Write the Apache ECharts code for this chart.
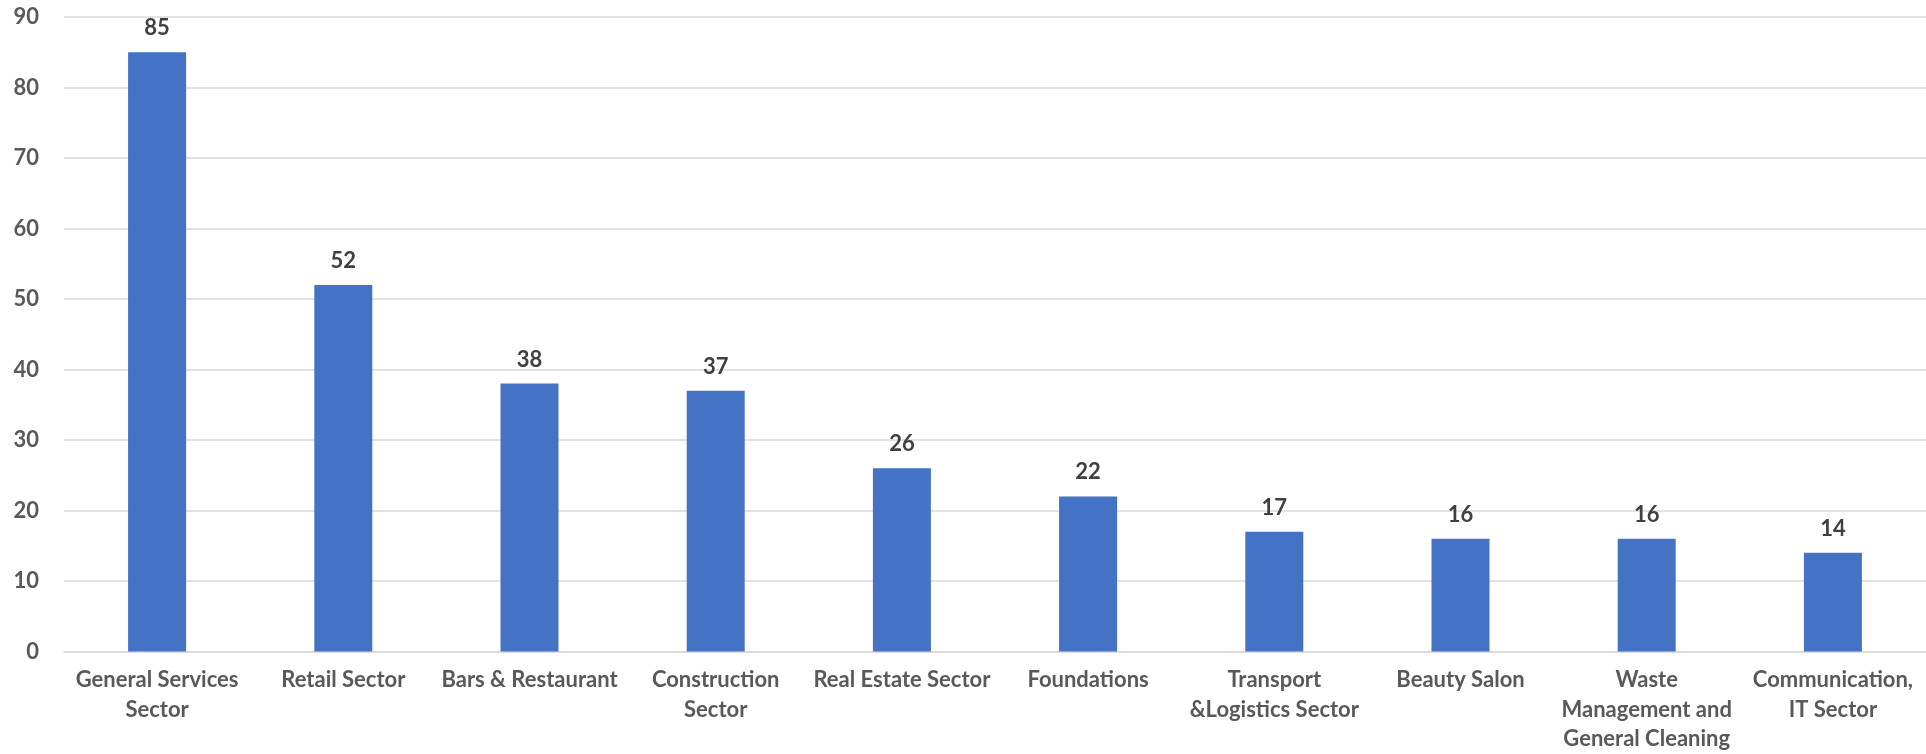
<!DOCTYPE html>
<html>
<head>
<meta charset="utf-8">
<script src="https://cdn.jsdelivr.net/npm/echarts@6/dist/echarts.min.js"></script>
<style>
html,body{margin:0;padding:0;background:#fff;}
#chart{width:1926px;height:754px;}
</style>
</head>
<body>
<div id="chart"></div>
<script>
const categories = [
  "General Services\nSector",
  "Retail Sector",
  "Bars & Restaurant",
  "Construction\nSector",
  "Real Estate Sector",
  "Foundations",
  "Transport\n&Logistics Sector",
  "Beauty Salon",
  "Waste\nManagement and\nGeneral Cleaning",
  "Communication,\nIT Sector"
];
const values = [85, 52, 38, 37, 26, 22, 17, 16, 16, 14];
const yTicks = { min: 0, max: 90, interval: 10 };

const chart = echarts.init(document.getElementById('chart'), null, { renderer: 'canvas' });
const fontFamily = 'Lato, "Open Sans", sans-serif';
chart.setOption({
  animation: false,
  backgroundColor: '#ffffff',
  grid: { left: 64, right: -3, top: 17, bottom: 102, containLabel: false },
  xAxis: {
    type: 'category',
    data: categories,
    axisLine: { show: true, lineStyle: { color: '#D9D9D9', width: 1.5 } },
    axisTick: { show: false },
    axisLabel: {
      interval: 0,
      margin: 14,
      color: '#595959',
      fontFamily: fontFamily,
      fontWeight: 'bold',
      fontSize: 22,
      lineHeight: 29.5,
      align: 'center'
    }
  },
  yAxis: {
    type: 'value',
    min: yTicks.min,
    max: yTicks.max,
    interval: yTicks.interval,
    axisLine: { show: false },
    axisTick: { show: false },
    splitLine: { show: true, lineStyle: { color: '#D9D9D9', width: 1.5 } },
    axisLabel: {
      margin: 25,
      color: '#595959',
      fontFamily: fontFamily,
      fontWeight: 'bold',
      fontSize: 22
    }
  },
  series: [{
    type: 'bar',
    data: values,
    barWidth: 58,
    itemStyle: { color: '#4472C4' },
    label: {
      show: true,
      position: 'top',
      distance: 13,
      color: '#404040',
      fontFamily: fontFamily,
      fontWeight: 'bold',
      fontSize: 22
    }
  }]
});
</script>
</body>
</html>
